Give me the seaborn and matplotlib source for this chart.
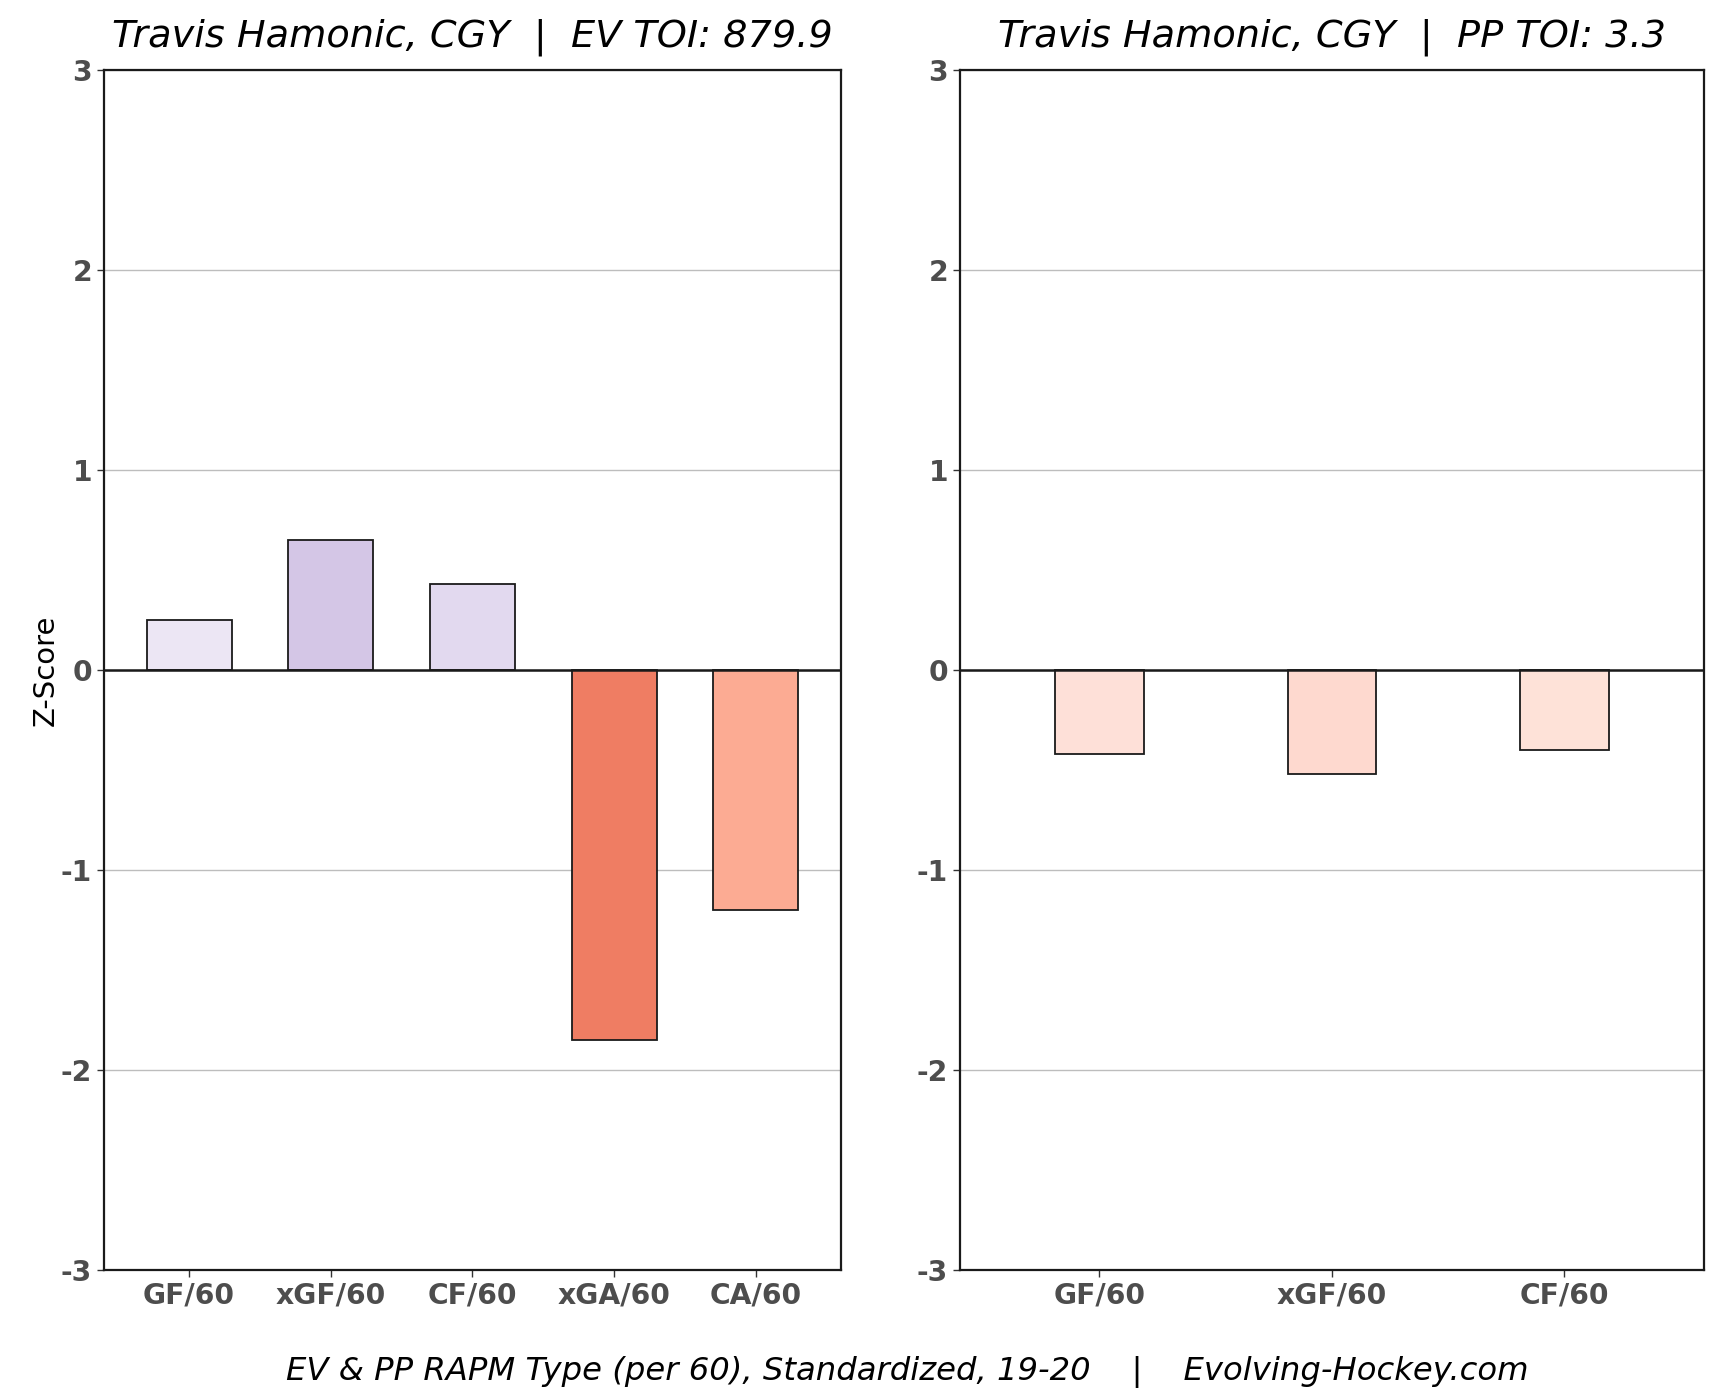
import matplotlib
matplotlib.use("Agg")
import matplotlib.pyplot as plt
import seaborn as sns
import pandas as pd

# data
player = "Travis Hamonic, CGY"
ev_toi = 879.9
pp_toi = 3.3
ev_metrics = ["GF/60", "xGF/60", "CF/60", "xGA/60", "CA/60"]
ev_values = [0.25, 0.65, 0.43, -1.85, -1.20]
pp_metrics = ["GF/60", "xGF/60", "CF/60"]
pp_values = [-0.42, -0.52, -0.40]

ev_colors = ["#ece6f4", "#d4c6e6", "#e2d9ef", "#ef7d63", "#fcab93"]
pp_colors = ["#fee0d8", "#fed9cf", "#fee2d8"]

sns.set_theme(style="white")
plt.rcParams['font.family'] = ['DejaVu Sans']
plt.rcParams['axes.unicode_minus'] = False
plt.rcParams['text.color'] = 'black'
plt.rcParams['axes.labelcolor'] = 'black'

fig = plt.figure(figsize=(17.25, 13.91), dpi=100)
ax1 = fig.add_axes([0.0603, 0.087, 0.4272, 0.8627])
ax2 = fig.add_axes([0.5565, 0.087, 0.4313, 0.8627])


def draw_panel(ax, metrics, values, colors, width, title):
    df = pd.DataFrame({"metric": metrics, "value": values})
    ax.set_axisbelow(True)
    ax.yaxis.grid(True, color="#bdbdbd", linewidth=1)
    sns.barplot(data=df, x="metric", y="value", hue="metric", palette=colors,
                legend=False, width=width, edgecolor="#1a1a1a", linewidth=1.3,
                saturation=1, ax=ax)
    ax.axhline(0, color="#1a1a1a", linewidth=1.8, zorder=3)
    ax.set_ylim(-3, 3)
    ax.set_xlim(-0.6, len(metrics) - 0.4)
    ax.set_yticks([-3, -2, -1, 0, 1, 2, 3])
    ax.set_xlabel("")
    ax.set_ylabel("")
    ax.set_title(title, fontsize=27.5, style="italic", pad=17)
    for s in ax.spines.values():
        s.set_color("#1a1a1a")
        s.set_linewidth(1.6)
    ax.tick_params(axis="both", which="both", length=5, width=1, color="#333333",
                   labelsize=20.3, labelcolor="#4d4d4d", bottom=True, left=True)
    for lab in ax.get_xticklabels() + ax.get_yticklabels():
        lab.set_fontweight("bold")


draw_panel(ax1, ev_metrics, ev_values, ev_colors, 0.6,
           f"{player}  |  EV TOI: {ev_toi}")
draw_panel(ax2, pp_metrics, pp_values, pp_colors, 0.38,
           f"{player}  |  PP TOI: {pp_toi}")

ax1.set_ylabel("Z-Score", fontsize=21, labelpad=1)

fig.text(0.526, 0.0135, "EV & PP RAPM Type (per 60), Standardized, 19-20    |    Evolving-Hockey.com",
         ha="center", va="center", fontsize=23.2, style="italic")

fig.savefig("out.png", dpi=100, facecolor="white")
